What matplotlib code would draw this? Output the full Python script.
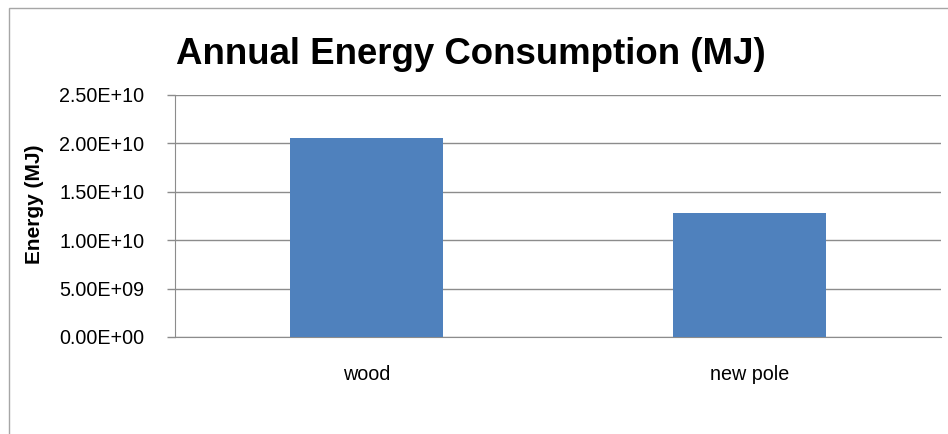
import matplotlib
matplotlib.use("Agg")
import matplotlib.pyplot as plt
from matplotlib.patches import Rectangle
from matplotlib.ticker import FuncFormatter

# Data
categories = ["wood", "new pole"]
energy_mj = [2.06e10, 1.28e10]
y_ticks = [0, 5e9, 1e10, 1.5e10, 2e10, 2.5e10]

plt.rcParams['font.family'] = ['Liberation Sans', 'DejaVu Sans']

W, H = 948, 434
fig = plt.figure(figsize=(W / 100, H / 100), dpi=100)

# chart border (only left and top edges visible in the picture)
fig.patches.append(Rectangle((9 / W, -0.1), 1.2, (H - 8) / H + 0.1,
                             transform=fig.transFigure, fill=False,
                             edgecolor='#a6a6a6', linewidth=1.0))

ax = fig.add_axes([175 / W, 97 / H, (941 - 175) / W, 242 / H])

x = range(len(categories))
ax.bar(x, energy_mj, width=0.4, color='#4F81BD', zorder=3)

ax.set_xlim(-0.5, len(categories) - 0.5)
ax.set_ylim(0, 2.5e10)
ax.set_yticks(y_ticks)
ax.yaxis.set_major_formatter(FuncFormatter(lambda v, p: "%.2E" % v))
ax.set_xticks(list(x))
ax.set_xticklabels(categories)

ax.grid(axis='y', color='#8c8c8c', linewidth=1.0, zorder=0)
ax.set_axisbelow(True)

for s in ['top', 'right']:
    ax.spines[s].set_visible(False)
ax.spines['left'].set_color('#8c8c8c')
ax.spines['bottom'].set_color('#8c8c8c')

ax.tick_params(axis='y', length=6, width=1, color='#8c8c8c', pad=16,
               labelsize=14.2, labelcolor='black')
ax.tick_params(axis='x', length=0, pad=20, labelsize=14.2, labelcolor='black')

fig.text(35 / W, 1 - 204 / H, "Energy (MJ)", rotation=90, ha='center',
         va='center', fontsize=15, fontweight='bold')

fig.text(471 / W, 1 - 64 / H, "Annual Energy Consumption (MJ)", ha='center',
         va='baseline', fontsize=26.4, fontweight='bold')

fig.savefig("out.png", dpi=100)
